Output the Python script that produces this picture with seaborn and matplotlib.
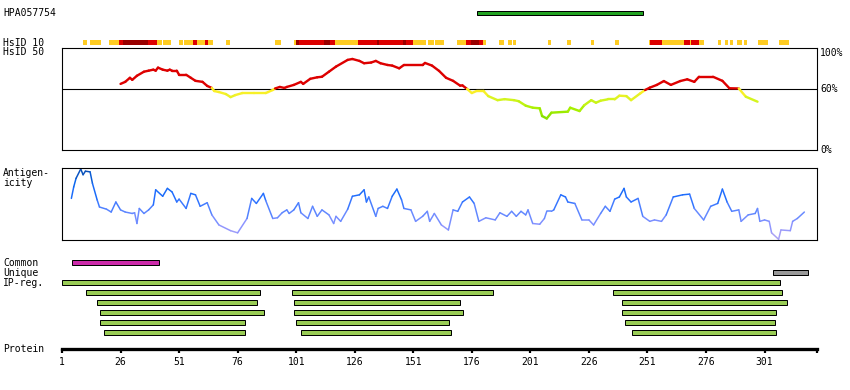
import numpy as np
import pandas as pd
import matplotlib
matplotlib.use('Agg')
import matplotlib.pyplot as plt
from matplotlib.colors import LinearSegmentedColormap, to_hex
from matplotlib.transforms import blended_transform_factory
import seaborn as sns

# protein / antigen
protein_len = 323.4
antigen = (178, 249)

# HsID 10 blocks (start, end, level: 1=low, 2=mid, 3=high)
hsid10_start = [10, 13, 21.2, 25.3, 27.2, 37.7, 41.6, 44.1, 51, 53.1, 57, 58.7, 62.1, 63.4, 71, 92,
                100.1, 101, 102.2, 112.9, 115.5, 117.7, 127.2, 135.3, 136.5, 146.7, 147.9, 150.9,
                157.2, 160.2, 169.7, 173.4, 175.7, 179.2, 180.8, 187.6, 191.5, 193.7, 208.7, 216.8,
                226.9, 237.2, 251.6, 252.2, 257.3, 266.7, 269.3, 269.7, 273.1, 281.1, 284.1, 286.2,
                289.2, 292.2, 298.2, 307.1]
hsid10_end = [11.7, 17.5, 25.3, 27.2, 37.7, 41.6, 43.7, 47.6, 52.7, 57, 58.7, 62.1, 63.4, 65.5, 72.8, 94.5,
              101, 102.2, 112.9, 115.5, 117.7, 127.2, 135.3, 136.5, 146.7, 147.9, 150.9, 156.6,
              159.7, 164.1, 173.4, 175.7, 179.2, 180.8, 182, 189.9, 193.1, 195, 210, 218.2,
              228.2, 238.9, 252.2, 257.3, 266.7, 269.3, 269.7, 273.1, 275.2, 282.4, 285.4, 287.5,
              291.3, 293.5, 302.4, 311.4]
hsid10_level = [1, 1, 1, 2, 3, 2, 1, 1, 1, 1, 2, 1, 2, 1, 1, 1,
                1, 3, 2, 3, 2, 1, 2, 3, 2, 3, 2, 1,
                1, 1, 1, 2, 3, 2, 1, 1, 1, 1, 1, 1,
                1, 1, 1, 2, 1, 2, 1, 2, 1, 1, 1, 1,
                1, 1, 1, 1]

# HsID 50 identity profile (%)
hsid50_res = [26, 28, 30, 31, 33, 36, 38, 40, 41, 42, 44, 46, 47, 48, 50, 51, 54, 56, 58, 61, 63, 65,
              66, 68, 71, 73, 75, 78, 83, 88, 89, 91, 92, 94, 96, 97, 100, 103, 104, 107, 110, 112,
              115, 118, 123, 125, 128, 130, 133, 135, 137, 140, 142, 145, 147, 155, 156, 159, 162,
              165, 168, 171, 172, 174, 176, 178, 181, 183, 187, 190, 194, 196, 199, 202, 205, 206,
              208, 210, 217, 218, 222, 224, 227, 229, 231, 234, 237, 239, 242, 244, 248, 250, 252,
              255, 258, 261, 265, 268, 271, 273, 279, 283, 286, 290, 293, 298]
hsid50_pct = [65, 67, 71, 69, 73, 77, 78, 79, 78, 81, 79, 78, 79, 78, 78, 74, 74, 71, 68, 67, 63, 61,
              58, 57, 55, 52, 54, 56, 56, 56, 57, 59, 60.5, 62, 61, 62, 64, 67, 65, 70, 71.5, 72,
              77, 82, 88.6, 89.5, 87.6, 85.3, 86, 87.6, 85.3, 83.6, 83, 80.3, 83.6, 83.6, 85.6, 83, 77.8,
              71, 68, 63.3, 63.5, 60, 56, 58, 58, 53, 49, 50, 49, 48, 43.6, 41.6, 41, 33.4,
              31, 36.7, 37.7, 41.6, 38.3, 44, 49, 46.5, 48.5, 49.8, 49.8, 53.4, 53, 49, 55.8, 59, 61.3,
              64, 67.8, 64, 67.8, 69.5, 67, 72, 72, 68, 60.7, 60.5, 52.4, 47.5]

# antigenicity (relative)
antig_res = [5, 6, 7, 9, 10, 11, 13, 14, 16, 17, 20, 22, 24, 26, 28, 31, 32, 33, 34, 36, 38, 40, 41, 44,
             46, 48, 50, 51, 54, 56, 58, 60, 63, 65, 68, 73, 76, 80, 82, 84, 87, 88, 91, 93, 95, 97,
             98, 100, 102, 103, 106, 108, 110, 112, 115, 117, 118, 120, 123, 125, 128, 130, 131, 132,
             135, 136, 138, 140, 142, 144, 146, 147, 150, 152, 155, 157, 158, 160, 163, 166, 168, 170,
             172, 175, 177, 179, 182, 186, 188, 191, 193, 195, 197, 199, 200, 202, 205, 207, 208, 210,
             211, 214, 216, 217, 220, 223, 226, 228, 231, 233, 235, 237, 239, 241, 242, 244, 247, 249,
             252, 254, 257, 259, 262, 266, 269, 271, 275, 278, 281, 283, 285, 287, 290, 291, 294, 297,
             298, 299, 301, 303, 304, 307, 308, 312, 313, 315, 318]
antig_val = [0.58, 0.74, 0.86, 0.99, 0.91, 0.96, 0.95, 0.79, 0.56, 0.46, 0.43, 0.39, 0.53, 0.42, 0.39,
             0.37, 0.38, 0.23, 0.44, 0.37, 0.42, 0.49, 0.70, 0.61, 0.72, 0.67, 0.53, 0.57, 0.44, 0.65,
             0.63, 0.47, 0.52, 0.35, 0.21, 0.13, 0.10, 0.30, 0.58, 0.51, 0.65, 0.55, 0.30, 0.31, 0.38,
             0.42, 0.37, 0.42, 0.52, 0.38, 0.30, 0.47, 0.33, 0.42, 0.35, 0.23, 0.33, 0.26, 0.43, 0.61,
             0.63, 0.70, 0.53, 0.60, 0.33, 0.44, 0.47, 0.44, 0.61, 0.71, 0.56, 0.44, 0.42, 0.26, 0.33,
             0.40, 0.26, 0.37, 0.21, 0.14, 0.42, 0.40, 0.53, 0.60, 0.51, 0.26, 0.31, 0.28, 0.38, 0.33,
             0.40, 0.33, 0.40, 0.35, 0.42, 0.23, 0.22, 0.30, 0.40, 0.40, 0.42, 0.63, 0.60, 0.53, 0.51,
             0.28, 0.28, 0.21, 0.37, 0.47, 0.40, 0.57, 0.60, 0.72, 0.60, 0.53, 0.58, 0.33, 0.26, 0.28,
             0.26, 0.35, 0.60, 0.63, 0.64, 0.44, 0.28, 0.47, 0.51, 0.71, 0.53, 0.40, 0.42, 0.26, 0.35,
             0.37, 0.44, 0.26, 0.28, 0.26, 0.10, 0.01, 0.14, 0.13, 0.26, 0.30, 0.39]

# common / unique / IP regions
common = (5.4, 42.3)
unique = (304.6, 319.5)
ip_row = [0, 1, 1, 1, 2, 2, 2, 3, 3, 3, 4, 4, 4, 5, 5, 5]
ip_start = [1, 11.4, 99.4, 236.1, 16.1, 100.2, 240.3, 17.4, 100.2, 240.3, 17.4, 101.1, 241.2, 19.1, 103.2, 244.2]
ip_end = [307.4, 85.4, 185.2, 308.3, 84.4, 171.1, 310.4, 87.4, 172.4, 306.1, 79.3, 166.4, 305.3, 79.3, 167.3, 306.1]

ticks = [1, 26, 51, 76, 101, 126, 151, 176, 201, 226, 251, 276, 301]

W, H = 850, 390
PX = 72 / 100  # points per pixel
sns.set_theme(style='white')
plt.rcParams['font.family'] = ['DejaVu Sans Mono', 'DejaVu Sans']
plt.rcParams['font.size'] = 7
plt.rcParams['text.color'] = 'black'
plt.rcParams['xtick.color'] = 'black'
plt.rcParams['xtick.labelcolor'] = 'black'

fig = plt.figure(figsize=(W / 100, H / 100), dpi=100)
fig.patch.set_facecolor('white')


def rect(top, bottom):
    return [62 / W, 1 - bottom / H, (817 - 62) / W, (bottom - top) / H]


def colored_line(ax, x, y, colors, lw):
    rows = []
    for i in range(len(x) - 1):
        rows.append((i, x[i], y[i]))
        rows.append((i, x[i + 1], y[i + 1]))
    df = pd.DataFrame(rows, columns=['seg', 'res', 'val'])
    pal = {i: colors[i] for i in range(len(x) - 1)}
    sns.lineplot(data=df, x='res', y='val', hue='seg', palette=pal, legend=False,
                 estimator=None, linewidth=lw, ax=ax, solid_capstyle='round')


# header: antigen + HsID 10
ax_head = fig.add_axes(rect(0, 48))
ax_head.set_xlim(1, protein_len)
ax_head.set_ylim(48, 0)
ax_head.axis('off')
ax_head.barh(12.8, antigen[1] - antigen[0], left=antigen[0], height=3.8,
             color='#22A322', edgecolor='black', linewidth=PX)
lvl_col = {1: '#FFCC22', 2: '#DD0000', 3: '#990000'}
ax_head.barh([42.6] * len(hsid10_start), np.array(hsid10_end) - np.array(hsid10_start),
             left=hsid10_start, height=5.3, color=[lvl_col[l] for l in hsid10_level], linewidth=0)

# HsID 50 panel
ax_id = fig.add_axes(rect(48.3, 150))
ax_id.set_xlim(1, protein_len)
ax_id.set_ylim(0, 100)
ax_id.set_xticks([])
ax_id.set_yticks([])
for s in ax_id.spines.values():
    s.set_color('black')
    s.set_linewidth(1.1 * PX)
ax_id.axhline(60, color='black', lw=1.1 * PX, zorder=1)
id_cmap = LinearSegmentedColormap.from_list('id', [(0, '#7FDC00'), (0.33, '#A6F000'),
                                                   (0.66, '#D4F51E'), (0.83, '#F5F02A'), (1, '#FFEE22')])
id_cols = []
for i in range(len(hsid50_pct) - 1):
    m = (hsid50_pct[i] + hsid50_pct[i + 1]) / 2
    id_cols.append('#DD0000' if m >= 60 else to_hex(id_cmap(np.clip((m - 30) / 30, 0, 1))))
colored_line(ax_id, hsid50_res, hsid50_pct, id_cols, 2.4 * PX)
ax_id.set_xlabel('')
ax_id.set_ylabel('')
tr = blended_transform_factory(ax_id.transAxes, ax_id.transData)
ax_id.text(1.004, 100, '100%', transform=tr, va='top', ha='left', color='black')
ax_id.text(1.004, 60, '60%', transform=tr, va='center', ha='left', color='black')
ax_id.text(1.004, 0, '0%', transform=tr, va='center', ha='left', color='black')

# antigenicity panel
ax_ag = fig.add_axes(rect(168.3, 240))
ax_ag.set_xlim(1, protein_len)
ax_ag.set_ylim(0, 1)
ax_ag.set_xticks([])
ax_ag.set_yticks([])
for s in ax_ag.spines.values():
    s.set_color('black')
    s.set_linewidth(1.1 * PX)
ag_cmap = LinearSegmentedColormap.from_list('ag', [(0, '#B4A6F0'), (0.2, '#8C94FF'), (0.4, '#5C86FF'),
                                                   (0.6, '#226EFF'), (0.8, '#0A66EE'), (1, '#0A4AA8')])
ag_cols = [to_hex(ag_cmap((antig_val[i] + antig_val[i + 1]) / 2)) for i in range(len(antig_val) - 1)]
colored_line(ax_ag, antig_res, antig_val, ag_cols, 1.5 * PX)
ax_ag.set_xlabel('')
ax_ag.set_ylabel('')

# region bars
ax_bar = fig.add_axes(rect(257.3, 337.3))
ax_bar.set_xlim(1, protein_len)
ax_bar.set_ylim(7.5, -0.5)
ax_bar.axis('off')
bh = 0.44
ax_bar.barh(0, common[1] - common[0], left=common[0], height=bh, color='#CC2AAA', edgecolor='black', linewidth=PX)
ax_bar.barh(1, unique[1] - unique[0], left=unique[0], height=bh, color='#999999', edgecolor='black', linewidth=PX)
ax_bar.barh(np.array(ip_row) + 2, np.array(ip_end) - np.array(ip_start), left=ip_start, height=bh,
            color='#99CC55', edgecolor='black', linewidth=PX)

# protein ruler
ax_pr = fig.add_axes([62 / W, 1 - 349.4 / H, (817 - 62) / W, 0.0001])
ax_pr.set_xlim(1, protein_len)
ax_pr.set_yticks([])
for k in ['top', 'left', 'right']:
    ax_pr.spines[k].set_visible(False)
ax_pr.spines['bottom'].set_color('black')
ax_pr.spines['bottom'].set_linewidth(3.3 * PX)
ax_pr.set_xticks(ticks + [protein_len])
ax_pr.set_xticklabels([str(t) for t in ticks] + [''])
ax_pr.tick_params(axis='x', direction='out', length=2.6, width=2.2 * PX, color='black',
                  labelcolor='black', pad=2.8, labelsize=7, bottom=True)
ax_pr.patch.set_alpha(0)

# left labels
labels = [('HPA057754', 13), ('HsID 10', 43), ('HsID 50', 52), ('Antigen-', 173), ('icity', 183),
          ('Common', 263), ('Unique', 272.5), ('IP-reg.', 283), ('Protein', 349.5)]
for txt, yc in labels:
    fig.text(3 / W, 1 - yc / H, txt, va='center', ha='left', fontsize=7, color='black')

fig.savefig('out.png', dpi=100, facecolor='white')
